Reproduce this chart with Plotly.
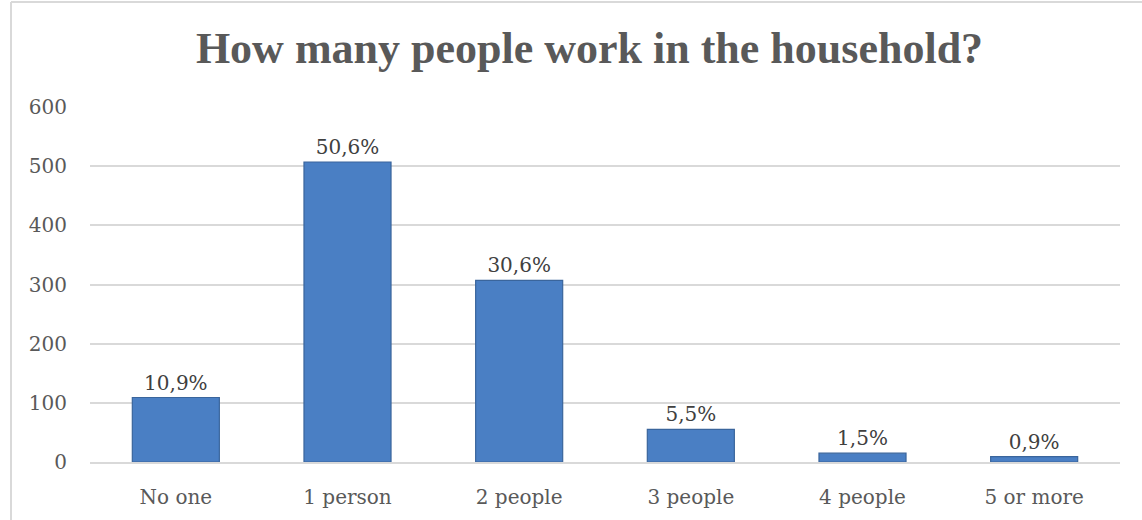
import plotly.graph_objects as go

# Survey answers: number of working people per household
categories = ["No one", "1 person", "2 people", "3 people", "4 people", "5 or more"]
counts = [109, 507, 307, 55, 15, 9]
y_ticks = [0, 100, 200, 300, 400, 500, 600]

total = sum(counts)
share_labels = [f"{c / total * 100:.1f}".replace(".", ",") + "%" for c in counts]

TEXT = "#595959"
GRID = "#D9D9D9"
SERIF = "DejaVu Serif"

fig = go.Figure()
fig.add_trace(
    go.Bar(
        x=categories,
        y=counts,
        text=share_labels,
        textposition="outside",
        textfont=dict(family=SERIF, size=20, color="#404040"),
        cliponaxis=False,
        marker=dict(color="#4A7FC4", line=dict(color="#3A659C", width=1.2)),
        hoverinfo="x+y",
    )
)

fig.update_layout(
    width=1142,
    height=520,
    margin=dict(l=90, r=22, t=107, b=58),
    paper_bgcolor="white",
    plot_bgcolor="white",
    bargap=0.493,
    showlegend=False,
    title=dict(
        text="<b>How many people work in the household?</b>",
        font=dict(family="Liberation Serif", size=44, color=TEXT),
        x=0.5162,
        xref="container",
        xanchor="center",
        y=0.9085,
        yref="container",
        yanchor="middle",
    ),
    xaxis=dict(
        showgrid=False,
        showline=True,
        linecolor=GRID,
        linewidth=2,
        ticks="",
        ticklabelstandoff=16,
        tickfont=dict(family=SERIF, size=20, color=TEXT),
    ),
    yaxis=dict(
        range=[0, 600],
        tickvals=y_ticks,
        showgrid=True,
        gridcolor=GRID,
        gridwidth=1.5,
        zeroline=False,
        showline=False,
        ticks="",
        ticklabelstandoff=22,
        tickfont=dict(family=SERIF, size=20, color=TEXT),
    ),
    shapes=[
        # chart frame: top and left edges
        dict(type="line", xref="paper", yref="paper", x0=-79 / 1030, x1=1.05,
             y0=1 + 105 / 355, y1=1 + 105 / 355, line=dict(color=GRID, width=2)),
        dict(type="line", xref="paper", yref="paper", x0=-79 / 1030, x1=-79 / 1030,
             y0=-1, y1=1 + 105 / 355, line=dict(color=GRID, width=2)),
    ],
)

fig.write_html("out.html")
